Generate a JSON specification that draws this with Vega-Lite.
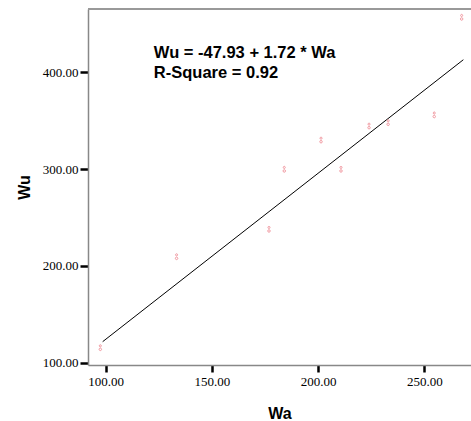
{
  "$schema": "https://vega.github.io/schema/vega-lite/v6.json",
  "width": 383,
  "height": 356,
  "autosize": {"type": "none"},
  "padding": {"left": 88, "top": 9, "right": 0, "bottom": 56},
  "background": "white",
  "config": {"view": {"stroke": null}},
  "datasets": {
    "pts": [
      {"Wa": 97.5, "Wu": 115.5},
      {"Wa": 133.4, "Wu": 209.5},
      {"Wa": 176.9, "Wu": 237.8},
      {"Wa": 184.1, "Wu": 299.8},
      {"Wa": 201.4, "Wu": 330.0},
      {"Wa": 210.8, "Wu": 299.8},
      {"Wa": 224.0, "Wu": 344.5},
      {"Wa": 233.0, "Wu": 348.0},
      {"Wa": 254.7, "Wu": 356.0},
      {"Wa": 267.6, "Wu": 456.8}
    ],
    "fit": [
      {"Wa": 98.6, "Wu": 121.7},
      {"Wa": 268.4, "Wu": 413.0}
    ],
    "notes": [
      {"Wa": 122.7, "Wu": 420.0, "label": "Wu = -47.93 + 1.72 * Wa"},
      {"Wa": 122.7, "Wu": 399.3, "label": "R-Square = 0.92"}
    ],
    "frame": [
      {"Wu": 465.4}
    ]
  },
  "layer": [
    {
      "data": {"name": "fit"},
      "mark": {"type": "line", "color": "black", "strokeWidth": 1},
      "encoding": {
        "x": {
          "field": "Wa", "type": "quantitative",
          "scale": {"domain": [91.7, 272.0], "nice": false, "zero": false},
          "axis": {
            "values": [100, 150, 200, 250], "format": ".2f",
            "grid": false,
            "domainColor": "#888888", "domainWidth": 1.5,
            "tickColor": "black", "tickWidth": 2.5, "tickSize": 7,
            "labelFont": "Liberation Serif", "labelFontSize": 13, "labelColor": "black",
            "labelPadding": 3,
            "title": "Wa", "titleFont": "Liberation Sans", "titleFontSize": 16,
            "titleFontWeight": "bold", "titleColor": "black", "titlePadding": 17
          }
        },
        "y": {
          "field": "Wu", "type": "quantitative",
          "scale": {"domain": [97.6, 465.4], "nice": false, "zero": false},
          "axis": {
            "values": [100, 200, 300, 400], "format": ".2f",
            "grid": false,
            "domainColor": "#888888", "domainWidth": 1.5,
            "tickColor": "black", "tickWidth": 2.5, "tickSize": 8,
            "labelFont": "Liberation Serif", "labelFontSize": 13, "labelColor": "black",
            "labelPadding": 2,
            "title": "Wu", "titleFont": "Liberation Sans", "titleFontSize": 16,
            "titleFontWeight": "bold", "titleColor": "black", "titlePadding": 10
          }
        }
      }
    },
    {
      "data": {"name": "pts"},
      "mark": {
        "type": "point",
        "shape": "M-0.28,-0.5 a0.28,0.3 0 1,0 0.56,0 a0.28,0.3 0 1,0 -0.56,0 M-0.34,0.45 a0.34,0.35 0 1,0 0.68,0 a0.34,0.35 0 1,0 -0.68,0",
        "size": 55,
        "filled": false,
        "stroke": "#f29aa2",
        "strokeWidth": 1,
        "opacity": 1
      },
      "encoding": {
        "x": {"field": "Wa", "type": "quantitative"},
        "y": {"field": "Wu", "type": "quantitative"}
      }
    },
    {
      "data": {"name": "notes"},
      "mark": {
        "type": "text", "align": "left", "baseline": "middle",
        "font": "Liberation Sans", "fontSize": 16.5, "fontWeight": "bold", "color": "black"
      },
      "encoding": {
        "x": {"field": "Wa", "type": "quantitative"},
        "y": {"field": "Wu", "type": "quantitative"},
        "text": {"field": "label"}
      }
    },
    {
      "data": {"name": "frame"},
      "mark": {"type": "rule", "color": "#999999", "strokeWidth": 2},
      "encoding": {"y": {"field": "Wu", "type": "quantitative"}}
    }
  ]
}
